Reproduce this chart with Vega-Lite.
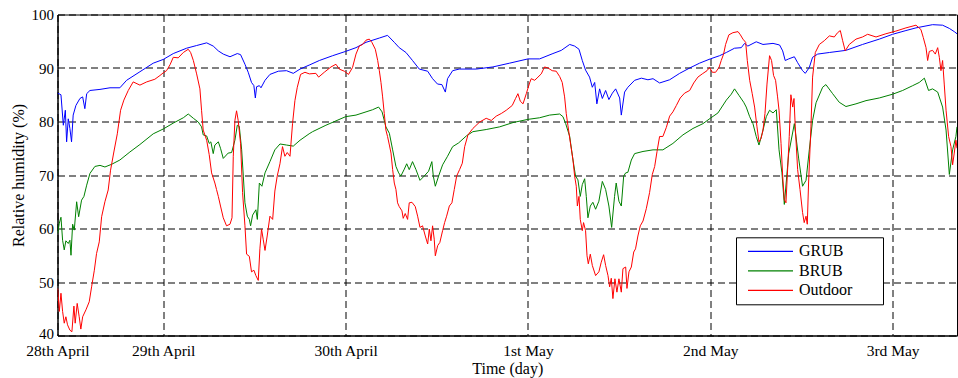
{
"$schema": "https://vega.github.io/schema/vega-lite/v6.json",
"width": 899.5, "height": 321,
"autosize": {"type": "none"},
"padding": {"left": 57.5, "top": 14.5, "right": 1, "bottom": 42.5},
"background": "white",
"config": {
 "font": "Liberation Serif",
 "view": {"stroke": "black", "strokeWidth": 1},
 "axis": {"domainColor": "black", "gridColor": "black", "gridDash": [7, 4], "gridOpacity": 1, "gridWidth": 1, "ticks": false, "labelFont": "Liberation Serif", "labelFontSize": 15.5, "labelColor": "black", "titleFont": "Liberation Serif", "titleFontSize": 16, "titleFontWeight": "normal", "titleColor": "black"}
},
"data": {"values": [
{"s":"GRUB","t":0.421,"v":85.3},{"s":"GRUB","t":0.439,"v":85.0},{"s":"GRUB","t":0.452,"v":79.3},{"s":"GRUB","t":0.463,"v":82.1},{"s":"GRUB","t":0.470,"v":76.2},{"s":"GRUB","t":0.479,"v":80.5},{"s":"GRUB","t":0.488,"v":78.7},{"s":"GRUB","t":0.497,"v":76.2},{"s":"GRUB","t":0.506,"v":81.2},{"s":"GRUB","t":0.521,"v":83.0},{"s":"GRUB","t":0.543,"v":84.3},{"s":"GRUB","t":0.558,"v":84.6},{"s":"GRUB","t":0.570,"v":82.4},{"s":"GRUB","t":0.580,"v":85.2},{"s":"GRUB","t":0.598,"v":85.8},{"s":"GRUB","t":0.653,"v":86.0},{"s":"GRUB","t":0.708,"v":86.3},{"s":"GRUB","t":0.762,"v":86.3},{"s":"GRUB","t":0.799,"v":87.7},{"s":"GRUB","t":0.872,"v":89.3},{"s":"GRUB","t":0.945,"v":90.9},{"s":"GRUB","t":1.000,"v":91.6},{"s":"GRUB","t":1.055,"v":92.7},{"s":"GRUB","t":1.128,"v":93.7},{"s":"GRUB","t":1.183,"v":94.2},{"s":"GRUB","t":1.238,"v":94.7},{"s":"GRUB","t":1.274,"v":94.1},{"s":"GRUB","t":1.302,"v":93.2},{"s":"GRUB","t":1.329,"v":92.6},{"s":"GRUB","t":1.366,"v":92.1},{"s":"GRUB","t":1.406,"v":92.7},{"s":"GRUB","t":1.424,"v":92.5},{"s":"GRUB","t":1.448,"v":90.7},{"s":"GRUB","t":1.466,"v":89.2},{"s":"GRUB","t":1.484,"v":87.3},{"s":"GRUB","t":1.497,"v":86.7},{"s":"GRUB","t":1.505,"v":84.4},{"s":"GRUB","t":1.512,"v":86.5},{"s":"GRUB","t":1.527,"v":86.7},{"s":"GRUB","t":1.536,"v":86.3},{"s":"GRUB","t":1.558,"v":87.7},{"s":"GRUB","t":1.585,"v":88.8},{"s":"GRUB","t":1.631,"v":89.4},{"s":"GRUB","t":1.676,"v":89.5},{"s":"GRUB","t":1.713,"v":89.0},{"s":"GRUB","t":1.750,"v":89.8},{"s":"GRUB","t":1.804,"v":90.6},{"s":"GRUB","t":1.856,"v":91.4},{"s":"GRUB","t":1.929,"v":92.3},{"s":"GRUB","t":2.000,"v":93.1},{"s":"GRUB","t":2.057,"v":93.8},{"s":"GRUB","t":2.112,"v":94.8},{"s":"GRUB","t":2.185,"v":95.6},{"s":"GRUB","t":2.230,"v":96.1},{"s":"GRUB","t":2.267,"v":94.8},{"s":"GRUB","t":2.294,"v":93.8},{"s":"GRUB","t":2.331,"v":92.9},{"s":"GRUB","t":2.367,"v":91.4},{"s":"GRUB","t":2.404,"v":89.8},{"s":"GRUB","t":2.450,"v":89.4},{"s":"GRUB","t":2.477,"v":88.0},{"s":"GRUB","t":2.504,"v":87.0},{"s":"GRUB","t":2.528,"v":86.9},{"s":"GRUB","t":2.547,"v":85.5},{"s":"GRUB","t":2.559,"v":88.0},{"s":"GRUB","t":2.587,"v":89.5},{"s":"GRUB","t":2.623,"v":89.8},{"s":"GRUB","t":2.717,"v":89.8},{"s":"GRUB","t":2.808,"v":90.2},{"s":"GRUB","t":2.899,"v":90.9},{"s":"GRUB","t":3.000,"v":91.7},{"s":"GRUB","t":3.064,"v":91.7},{"s":"GRUB","t":3.137,"v":92.7},{"s":"GRUB","t":3.183,"v":93.3},{"s":"GRUB","t":3.229,"v":94.4},{"s":"GRUB","t":3.256,"v":94.1},{"s":"GRUB","t":3.280,"v":93.5},{"s":"GRUB","t":3.298,"v":91.4},{"s":"GRUB","t":3.316,"v":89.6},{"s":"GRUB","t":3.338,"v":88.3},{"s":"GRUB","t":3.353,"v":86.4},{"s":"GRUB","t":3.366,"v":87.3},{"s":"GRUB","t":3.378,"v":83.3},{"s":"GRUB","t":3.393,"v":86.1},{"s":"GRUB","t":3.408,"v":84.3},{"s":"GRUB","t":3.426,"v":85.8},{"s":"GRUB","t":3.444,"v":84.1},{"s":"GRUB","t":3.463,"v":85.3},{"s":"GRUB","t":3.481,"v":86.1},{"s":"GRUB","t":3.503,"v":84.4},{"s":"GRUB","t":3.512,"v":81.2},{"s":"GRUB","t":3.530,"v":85.5},{"s":"GRUB","t":3.548,"v":86.4},{"s":"GRUB","t":3.585,"v":87.7},{"s":"GRUB","t":3.622,"v":88.1},{"s":"GRUB","t":3.658,"v":87.8},{"s":"GRUB","t":3.686,"v":88.0},{"s":"GRUB","t":3.722,"v":87.2},{"s":"GRUB","t":3.777,"v":87.8},{"s":"GRUB","t":3.832,"v":89.0},{"s":"GRUB","t":3.887,"v":90.0},{"s":"GRUB","t":3.941,"v":90.9},{"s":"GRUB","t":4.000,"v":91.7},{"s":"GRUB","t":4.051,"v":92.3},{"s":"GRUB","t":4.088,"v":92.9},{"s":"GRUB","t":4.133,"v":93.7},{"s":"GRUB","t":4.170,"v":93.8},{"s":"GRUB","t":4.188,"v":94.6},{"s":"GRUB","t":4.206,"v":94.1},{"s":"GRUB","t":4.252,"v":94.9},{"s":"GRUB","t":4.289,"v":94.4},{"s":"GRUB","t":4.344,"v":94.6},{"s":"GRUB","t":4.380,"v":94.3},{"s":"GRUB","t":4.397,"v":93.2},{"s":"GRUB","t":4.411,"v":91.4},{"s":"GRUB","t":4.430,"v":91.7},{"s":"GRUB","t":4.461,"v":92.1},{"s":"GRUB","t":4.479,"v":91.0},{"s":"GRUB","t":4.506,"v":89.5},{"s":"GRUB","t":4.521,"v":89.0},{"s":"GRUB","t":4.543,"v":90.1},{"s":"GRUB","t":4.561,"v":92.0},{"s":"GRUB","t":4.589,"v":92.6},{"s":"GRUB","t":4.653,"v":92.9},{"s":"GRUB","t":4.744,"v":93.3},{"s":"GRUB","t":4.835,"v":94.4},{"s":"GRUB","t":4.927,"v":95.4},{"s":"GRUB","t":5.000,"v":96.3},{"s":"GRUB","t":5.073,"v":97.0},{"s":"GRUB","t":5.128,"v":97.5},{"s":"GRUB","t":5.219,"v":98.1},{"s":"GRUB","t":5.274,"v":98.0},{"s":"GRUB","t":5.311,"v":97.4},{"s":"GRUB","t":5.338,"v":96.8},{"s":"GRUB","t":5.353,"v":96.4},
{"s":"BRUB","t":0.421,"v":59.1},{"s":"BRUB","t":0.430,"v":61.0},{"s":"BRUB","t":0.439,"v":62.1},{"s":"BRUB","t":0.448,"v":57.8},{"s":"BRUB","t":0.457,"v":56.0},{"s":"BRUB","t":0.466,"v":57.7},{"s":"BRUB","t":0.479,"v":57.2},{"s":"BRUB","t":0.488,"v":57.8},{"s":"BRUB","t":0.494,"v":55.0},{"s":"BRUB","t":0.503,"v":60.8},{"s":"BRUB","t":0.512,"v":59.7},{"s":"BRUB","t":0.525,"v":65.0},{"s":"BRUB","t":0.536,"v":62.2},{"s":"BRUB","t":0.552,"v":65.3},{"s":"BRUB","t":0.565,"v":66.0},{"s":"BRUB","t":0.580,"v":68.1},{"s":"BRUB","t":0.598,"v":70.3},{"s":"BRUB","t":0.625,"v":71.6},{"s":"BRUB","t":0.653,"v":71.8},{"s":"BRUB","t":0.680,"v":71.5},{"s":"BRUB","t":0.717,"v":72.0},{"s":"BRUB","t":0.762,"v":72.8},{"s":"BRUB","t":0.817,"v":74.3},{"s":"BRUB","t":0.872,"v":75.7},{"s":"BRUB","t":0.945,"v":77.7},{"s":"BRUB","t":1.000,"v":78.6},{"s":"BRUB","t":1.055,"v":79.7},{"s":"BRUB","t":1.110,"v":80.7},{"s":"BRUB","t":1.137,"v":81.4},{"s":"BRUB","t":1.165,"v":80.6},{"s":"BRUB","t":1.192,"v":79.9},{"s":"BRUB","t":1.210,"v":79.0},{"s":"BRUB","t":1.219,"v":77.5},{"s":"BRUB","t":1.238,"v":77.3},{"s":"BRUB","t":1.252,"v":75.9},{"s":"BRUB","t":1.261,"v":76.2},{"s":"BRUB","t":1.274,"v":74.0},{"s":"BRUB","t":1.283,"v":75.6},{"s":"BRUB","t":1.302,"v":76.2},{"s":"BRUB","t":1.314,"v":75.0},{"s":"BRUB","t":1.329,"v":73.1},{"s":"BRUB","t":1.356,"v":74.1},{"s":"BRUB","t":1.375,"v":74.2},{"s":"BRUB","t":1.393,"v":76.5},{"s":"BRUB","t":1.406,"v":79.3},{"s":"BRUB","t":1.417,"v":79.1},{"s":"BRUB","t":1.430,"v":74.7},{"s":"BRUB","t":1.439,"v":69.8},{"s":"BRUB","t":1.448,"v":64.8},{"s":"BRUB","t":1.461,"v":62.3},{"s":"BRUB","t":1.472,"v":61.7},{"s":"BRUB","t":1.479,"v":60.5},{"s":"BRUB","t":1.490,"v":62.5},{"s":"BRUB","t":1.508,"v":63.5},{"s":"BRUB","t":1.516,"v":61.7},{"s":"BRUB","t":1.527,"v":68.5},{"s":"BRUB","t":1.541,"v":67.9},{"s":"BRUB","t":1.558,"v":70.4},{"s":"BRUB","t":1.585,"v":72.5},{"s":"BRUB","t":1.612,"v":74.7},{"s":"BRUB","t":1.640,"v":75.8},{"s":"BRUB","t":1.676,"v":75.6},{"s":"BRUB","t":1.713,"v":75.4},{"s":"BRUB","t":1.750,"v":76.5},{"s":"BRUB","t":1.800,"v":77.7},{"s":"BRUB","t":1.819,"v":78.1},{"s":"BRUB","t":1.892,"v":79.3},{"s":"BRUB","t":2.000,"v":80.9},{"s":"BRUB","t":2.057,"v":81.2},{"s":"BRUB","t":2.112,"v":81.8},{"s":"BRUB","t":2.148,"v":82.2},{"s":"BRUB","t":2.181,"v":82.7},{"s":"BRUB","t":2.200,"v":81.8},{"s":"BRUB","t":2.221,"v":79.0},{"s":"BRUB","t":2.240,"v":77.8},{"s":"BRUB","t":2.258,"v":74.7},{"s":"BRUB","t":2.276,"v":71.6},{"s":"BRUB","t":2.291,"v":70.4},{"s":"BRUB","t":2.303,"v":69.8},{"s":"BRUB","t":2.322,"v":71.1},{"s":"BRUB","t":2.335,"v":72.1},{"s":"BRUB","t":2.349,"v":71.0},{"s":"BRUB","t":2.367,"v":72.5},{"s":"BRUB","t":2.386,"v":71.0},{"s":"BRUB","t":2.408,"v":69.0},{"s":"BRUB","t":2.431,"v":69.8},{"s":"BRUB","t":2.455,"v":70.7},{"s":"BRUB","t":2.473,"v":72.5},{"s":"BRUB","t":2.481,"v":69.8},{"s":"BRUB","t":2.492,"v":67.9},{"s":"BRUB","t":2.510,"v":69.8},{"s":"BRUB","t":2.532,"v":71.9},{"s":"BRUB","t":2.559,"v":73.5},{"s":"BRUB","t":2.587,"v":75.3},{"s":"BRUB","t":2.620,"v":76.0},{"s":"BRUB","t":2.662,"v":77.3},{"s":"BRUB","t":2.698,"v":78.1},{"s":"BRUB","t":2.771,"v":78.5},{"s":"BRUB","t":2.845,"v":79.0},{"s":"BRUB","t":2.918,"v":79.8},{"s":"BRUB","t":3.000,"v":80.4},{"s":"BRUB","t":3.064,"v":80.7},{"s":"BRUB","t":3.119,"v":81.2},{"s":"BRUB","t":3.174,"v":81.4},{"s":"BRUB","t":3.192,"v":80.9},{"s":"BRUB","t":3.207,"v":79.6},{"s":"BRUB","t":3.229,"v":77.2},{"s":"BRUB","t":3.247,"v":72.8},{"s":"BRUB","t":3.261,"v":69.8},{"s":"BRUB","t":3.274,"v":69.1},{"s":"BRUB","t":3.287,"v":66.0},{"s":"BRUB","t":3.298,"v":68.2},{"s":"BRUB","t":3.311,"v":69.3},{"s":"BRUB","t":3.320,"v":66.0},{"s":"BRUB","t":3.329,"v":62.0},{"s":"BRUB","t":3.342,"v":64.2},{"s":"BRUB","t":3.356,"v":64.9},{"s":"BRUB","t":3.371,"v":63.6},{"s":"BRUB","t":3.389,"v":65.1},{"s":"BRUB","t":3.408,"v":68.8},{"s":"BRUB","t":3.426,"v":67.3},{"s":"BRUB","t":3.444,"v":64.2},{"s":"BRUB","t":3.459,"v":60.2},{"s":"BRUB","t":3.475,"v":66.0},{"s":"BRUB","t":3.484,"v":68.5},{"s":"BRUB","t":3.499,"v":65.1},{"s":"BRUB","t":3.512,"v":64.2},{"s":"BRUB","t":3.525,"v":69.8},{"s":"BRUB","t":3.536,"v":70.4},{"s":"BRUB","t":3.548,"v":70.5},{"s":"BRUB","t":3.567,"v":72.8},{"s":"BRUB","t":3.585,"v":74.0},{"s":"BRUB","t":3.631,"v":74.4},{"s":"BRUB","t":3.686,"v":74.7},{"s":"BRUB","t":3.740,"v":74.7},{"s":"BRUB","t":3.795,"v":75.9},{"s":"BRUB","t":3.850,"v":77.5},{"s":"BRUB","t":3.905,"v":78.7},{"s":"BRUB","t":3.960,"v":79.6},{"s":"BRUB","t":4.000,"v":80.6},{"s":"BRUB","t":4.042,"v":81.6},{"s":"BRUB","t":4.088,"v":84.0},{"s":"BRUB","t":4.115,"v":85.1},{"s":"BRUB","t":4.133,"v":86.1},{"s":"BRUB","t":4.157,"v":84.9},{"s":"BRUB","t":4.183,"v":83.6},{"s":"BRUB","t":4.197,"v":82.7},{"s":"BRUB","t":4.216,"v":80.9},{"s":"BRUB","t":4.234,"v":79.6},{"s":"BRUB","t":4.252,"v":77.2},{"s":"BRUB","t":4.267,"v":75.6},{"s":"BRUB","t":4.285,"v":77.8},{"s":"BRUB","t":4.307,"v":80.9},{"s":"BRUB","t":4.325,"v":82.1},{"s":"BRUB","t":4.344,"v":81.6},{"s":"BRUB","t":4.362,"v":82.2},{"s":"BRUB","t":4.377,"v":74.7},{"s":"BRUB","t":4.393,"v":70.4},{"s":"BRUB","t":4.406,"v":64.5},{"s":"BRUB","t":4.430,"v":74.0},{"s":"BRUB","t":4.461,"v":79.6},{"s":"BRUB","t":4.485,"v":73.0},{"s":"BRUB","t":4.506,"v":67.9},{"s":"BRUB","t":4.525,"v":69.0},{"s":"BRUB","t":4.543,"v":74.7},{"s":"BRUB","t":4.561,"v":80.2},{"s":"BRUB","t":4.580,"v":83.5},{"s":"BRUB","t":4.616,"v":86.4},{"s":"BRUB","t":4.634,"v":86.9},{"s":"BRUB","t":4.671,"v":85.2},{"s":"BRUB","t":4.707,"v":83.6},{"s":"BRUB","t":4.744,"v":82.8},{"s":"BRUB","t":4.799,"v":83.3},{"s":"BRUB","t":4.854,"v":83.9},{"s":"BRUB","t":4.927,"v":84.4},{"s":"BRUB","t":5.000,"v":85.1},{"s":"BRUB","t":5.055,"v":85.8},{"s":"BRUB","t":5.110,"v":86.7},{"s":"BRUB","t":5.146,"v":87.3},{"s":"BRUB","t":5.174,"v":88.1},{"s":"BRUB","t":5.197,"v":85.8},{"s":"BRUB","t":5.219,"v":86.1},{"s":"BRUB","t":5.247,"v":85.5},{"s":"BRUB","t":5.274,"v":82.7},{"s":"BRUB","t":5.293,"v":78.4},{"s":"BRUB","t":5.311,"v":70.1},{"s":"BRUB","t":5.329,"v":74.7},{"s":"BRUB","t":5.347,"v":77.2},{"s":"BRUB","t":5.353,"v":79.0},
{"s":"Outdoor","t":0.421,"v":48.8},{"s":"Outdoor","t":0.430,"v":44.5},{"s":"Outdoor","t":0.439,"v":47.9},{"s":"Outdoor","t":0.448,"v":44.5},{"s":"Outdoor","t":0.457,"v":42.3},{"s":"Outdoor","t":0.466,"v":43.5},{"s":"Outdoor","t":0.475,"v":42.0},{"s":"Outdoor","t":0.488,"v":41.0},{"s":"Outdoor","t":0.499,"v":40.7},{"s":"Outdoor","t":0.510,"v":45.5},{"s":"Outdoor","t":0.517,"v":42.3},{"s":"Outdoor","t":0.528,"v":46.0},{"s":"Outdoor","t":0.539,"v":43.5},{"s":"Outdoor","t":0.548,"v":41.2},{"s":"Outdoor","t":0.558,"v":43.5},{"s":"Outdoor","t":0.576,"v":44.8},{"s":"Outdoor","t":0.594,"v":46.3},{"s":"Outdoor","t":0.607,"v":49.1},{"s":"Outdoor","t":0.622,"v":52.2},{"s":"Outdoor","t":0.634,"v":55.3},{"s":"Outdoor","t":0.649,"v":57.5},{"s":"Outdoor","t":0.662,"v":62.2},{"s":"Outdoor","t":0.680,"v":65.0},{"s":"Outdoor","t":0.698,"v":67.2},{"s":"Outdoor","t":0.711,"v":70.9},{"s":"Outdoor","t":0.729,"v":74.3},{"s":"Outdoor","t":0.748,"v":77.7},{"s":"Outdoor","t":0.766,"v":82.1},{"s":"Outdoor","t":0.784,"v":84.0},{"s":"Outdoor","t":0.808,"v":85.8},{"s":"Outdoor","t":0.835,"v":87.4},{"s":"Outdoor","t":0.872,"v":86.8},{"s":"Outdoor","t":0.909,"v":87.4},{"s":"Outdoor","t":0.954,"v":87.9},{"s":"Outdoor","t":0.982,"v":88.6},{"s":"Outdoor","t":1.000,"v":89.1},{"s":"Outdoor","t":1.018,"v":89.5},{"s":"Outdoor","t":1.037,"v":90.6},{"s":"Outdoor","t":1.055,"v":92.0},{"s":"Outdoor","t":1.082,"v":91.9},{"s":"Outdoor","t":1.110,"v":92.9},{"s":"Outdoor","t":1.137,"v":93.5},{"s":"Outdoor","t":1.150,"v":92.9},{"s":"Outdoor","t":1.165,"v":91.4},{"s":"Outdoor","t":1.183,"v":88.9},{"s":"Outdoor","t":1.201,"v":86.1},{"s":"Outdoor","t":1.210,"v":82.1},{"s":"Outdoor","t":1.219,"v":78.4},{"s":"Outdoor","t":1.238,"v":76.5},{"s":"Outdoor","t":1.252,"v":73.8},{"s":"Outdoor","t":1.265,"v":70.4},{"s":"Outdoor","t":1.283,"v":68.5},{"s":"Outdoor","t":1.292,"v":67.3},{"s":"Outdoor","t":1.302,"v":66.0},{"s":"Outdoor","t":1.314,"v":64.2},{"s":"Outdoor","t":1.329,"v":62.0},{"s":"Outdoor","t":1.347,"v":60.5},{"s":"Outdoor","t":1.366,"v":60.8},{"s":"Outdoor","t":1.377,"v":62.0},{"s":"Outdoor","t":1.384,"v":73.5},{"s":"Outdoor","t":1.393,"v":80.2},{"s":"Outdoor","t":1.402,"v":82.0},{"s":"Outdoor","t":1.411,"v":80.2},{"s":"Outdoor","t":1.424,"v":75.9},{"s":"Outdoor","t":1.435,"v":66.7},{"s":"Outdoor","t":1.448,"v":60.5},{"s":"Outdoor","t":1.457,"v":55.2},{"s":"Outdoor","t":1.472,"v":54.8},{"s":"Outdoor","t":1.484,"v":51.9},{"s":"Outdoor","t":1.497,"v":52.2},{"s":"Outdoor","t":1.508,"v":51.2},{"s":"Outdoor","t":1.521,"v":50.3},{"s":"Outdoor","t":1.530,"v":56.2},{"s":"Outdoor","t":1.539,"v":59.9},{"s":"Outdoor","t":1.548,"v":58.0},{"s":"Outdoor","t":1.558,"v":55.9},{"s":"Outdoor","t":1.570,"v":58.6},{"s":"Outdoor","t":1.585,"v":62.3},{"s":"Outdoor","t":1.600,"v":61.7},{"s":"Outdoor","t":1.612,"v":67.0},{"s":"Outdoor","t":1.625,"v":69.8},{"s":"Outdoor","t":1.640,"v":72.1},{"s":"Outdoor","t":1.654,"v":75.3},{"s":"Outdoor","t":1.667,"v":73.5},{"s":"Outdoor","t":1.680,"v":74.2},{"s":"Outdoor","t":1.695,"v":73.5},{"s":"Outdoor","t":1.709,"v":79.6},{"s":"Outdoor","t":1.722,"v":83.9},{"s":"Outdoor","t":1.735,"v":86.4},{"s":"Outdoor","t":1.753,"v":88.8},{"s":"Outdoor","t":1.777,"v":89.2},{"s":"Outdoor","t":1.801,"v":88.9},{"s":"Outdoor","t":1.837,"v":89.0},{"s":"Outdoor","t":1.852,"v":88.3},{"s":"Outdoor","t":1.883,"v":89.2},{"s":"Outdoor","t":1.920,"v":90.2},{"s":"Outdoor","t":1.947,"v":90.7},{"s":"Outdoor","t":1.965,"v":89.8},{"s":"Outdoor","t":1.993,"v":89.4},{"s":"Outdoor","t":2.016,"v":88.8},{"s":"Outdoor","t":2.038,"v":90.1},{"s":"Outdoor","t":2.057,"v":92.6},{"s":"Outdoor","t":2.075,"v":94.1},{"s":"Outdoor","t":2.093,"v":94.4},{"s":"Outdoor","t":2.112,"v":95.2},{"s":"Outdoor","t":2.130,"v":95.4},{"s":"Outdoor","t":2.144,"v":94.8},{"s":"Outdoor","t":2.163,"v":93.5},{"s":"Outdoor","t":2.176,"v":91.4},{"s":"Outdoor","t":2.185,"v":89.5},{"s":"Outdoor","t":2.194,"v":87.3},{"s":"Outdoor","t":2.203,"v":84.6},{"s":"Outdoor","t":2.212,"v":81.5},{"s":"Outdoor","t":2.221,"v":78.4},{"s":"Outdoor","t":2.230,"v":77.2},{"s":"Outdoor","t":2.240,"v":75.6},{"s":"Outdoor","t":2.249,"v":74.1},{"s":"Outdoor","t":2.258,"v":71.0},{"s":"Outdoor","t":2.267,"v":68.5},{"s":"Outdoor","t":2.276,"v":67.3},{"s":"Outdoor","t":2.285,"v":64.8},{"s":"Outdoor","t":2.294,"v":64.1},{"s":"Outdoor","t":2.309,"v":63.3},{"s":"Outdoor","t":2.316,"v":61.9},{"s":"Outdoor","t":2.327,"v":62.8},{"s":"Outdoor","t":2.340,"v":61.7},{"s":"Outdoor","t":2.349,"v":64.8},{"s":"Outdoor","t":2.364,"v":64.9},{"s":"Outdoor","t":2.382,"v":64.1},{"s":"Outdoor","t":2.395,"v":62.3},{"s":"Outdoor","t":2.408,"v":60.2},{"s":"Outdoor","t":2.422,"v":60.5},{"s":"Outdoor","t":2.437,"v":58.6},{"s":"Outdoor","t":2.450,"v":57.1},{"s":"Outdoor","t":2.459,"v":59.9},{"s":"Outdoor","t":2.468,"v":57.7},{"s":"Outdoor","t":2.477,"v":60.5},{"s":"Outdoor","t":2.486,"v":58.0},{"s":"Outdoor","t":2.492,"v":54.9},{"s":"Outdoor","t":2.505,"v":56.8},{"s":"Outdoor","t":2.517,"v":57.4},{"s":"Outdoor","t":2.532,"v":59.6},{"s":"Outdoor","t":2.543,"v":61.1},{"s":"Outdoor","t":2.554,"v":62.3},{"s":"Outdoor","t":2.569,"v":64.2},{"s":"Outdoor","t":2.583,"v":64.8},{"s":"Outdoor","t":2.596,"v":67.3},{"s":"Outdoor","t":2.609,"v":69.8},{"s":"Outdoor","t":2.625,"v":71.0},{"s":"Outdoor","t":2.640,"v":72.2},{"s":"Outdoor","t":2.653,"v":75.3},{"s":"Outdoor","t":2.671,"v":77.5},{"s":"Outdoor","t":2.698,"v":78.7},{"s":"Outdoor","t":2.735,"v":79.9},{"s":"Outdoor","t":2.771,"v":80.6},{"s":"Outdoor","t":2.799,"v":80.2},{"s":"Outdoor","t":2.826,"v":81.0},{"s":"Outdoor","t":2.854,"v":81.5},{"s":"Outdoor","t":2.881,"v":82.1},{"s":"Outdoor","t":2.914,"v":83.0},{"s":"Outdoor","t":2.932,"v":84.3},{"s":"Outdoor","t":2.945,"v":85.2},{"s":"Outdoor","t":2.958,"v":83.8},{"s":"Outdoor","t":2.973,"v":83.3},{"s":"Outdoor","t":2.991,"v":85.2},{"s":"Outdoor","t":3.009,"v":87.2},{"s":"Outdoor","t":3.018,"v":88.0},{"s":"Outdoor","t":3.037,"v":87.7},{"s":"Outdoor","t":3.055,"v":88.3},{"s":"Outdoor","t":3.073,"v":88.9},{"s":"Outdoor","t":3.091,"v":90.2},{"s":"Outdoor","t":3.110,"v":90.0},{"s":"Outdoor","t":3.133,"v":89.5},{"s":"Outdoor","t":3.155,"v":89.4},{"s":"Outdoor","t":3.174,"v":88.4},{"s":"Outdoor","t":3.188,"v":87.3},{"s":"Outdoor","t":3.201,"v":84.6},{"s":"Outdoor","t":3.210,"v":81.5},{"s":"Outdoor","t":3.219,"v":79.3},{"s":"Outdoor","t":3.232,"v":76.2},{"s":"Outdoor","t":3.247,"v":72.8},{"s":"Outdoor","t":3.256,"v":69.8},{"s":"Outdoor","t":3.265,"v":67.9},{"s":"Outdoor","t":3.271,"v":64.2},{"s":"Outdoor","t":3.280,"v":66.0},{"s":"Outdoor","t":3.287,"v":61.7},{"s":"Outdoor","t":3.298,"v":59.6},{"s":"Outdoor","t":3.305,"v":61.1},{"s":"Outdoor","t":3.316,"v":59.6},{"s":"Outdoor","t":3.324,"v":54.9},{"s":"Outdoor","t":3.331,"v":53.4},{"s":"Outdoor","t":3.342,"v":55.2},{"s":"Outdoor","t":3.353,"v":53.1},{"s":"Outdoor","t":3.371,"v":51.2},{"s":"Outdoor","t":3.389,"v":51.9},{"s":"Outdoor","t":3.402,"v":53.7},{"s":"Outdoor","t":3.415,"v":55.1},{"s":"Outdoor","t":3.426,"v":53.1},{"s":"Outdoor","t":3.439,"v":51.2},{"s":"Outdoor","t":3.448,"v":49.1},{"s":"Outdoor","t":3.457,"v":50.7},{"s":"Outdoor","t":3.466,"v":46.9},{"s":"Outdoor","t":3.477,"v":50.6},{"s":"Outdoor","t":3.488,"v":48.1},{"s":"Outdoor","t":3.499,"v":50.6},{"s":"Outdoor","t":3.512,"v":48.1},{"s":"Outdoor","t":3.521,"v":52.5},{"s":"Outdoor","t":3.536,"v":52.8},{"s":"Outdoor","t":3.543,"v":48.8},{"s":"Outdoor","t":3.554,"v":51.9},{"s":"Outdoor","t":3.567,"v":52.8},{"s":"Outdoor","t":3.580,"v":55.6},{"s":"Outdoor","t":3.590,"v":56.2},{"s":"Outdoor","t":3.603,"v":58.6},{"s":"Outdoor","t":3.616,"v":60.5},{"s":"Outdoor","t":3.631,"v":61.4},{"s":"Outdoor","t":3.649,"v":63.7},{"s":"Outdoor","t":3.667,"v":66.7},{"s":"Outdoor","t":3.682,"v":70.1},{"s":"Outdoor","t":3.695,"v":71.6},{"s":"Outdoor","t":3.708,"v":74.4},{"s":"Outdoor","t":3.722,"v":77.2},{"s":"Outdoor","t":3.740,"v":77.2},{"s":"Outdoor","t":3.759,"v":78.9},{"s":"Outdoor","t":3.777,"v":81.0},{"s":"Outdoor","t":3.795,"v":81.8},{"s":"Outdoor","t":3.814,"v":83.0},{"s":"Outdoor","t":3.835,"v":84.4},{"s":"Outdoor","t":3.859,"v":85.3},{"s":"Outdoor","t":3.887,"v":85.8},{"s":"Outdoor","t":3.909,"v":87.2},{"s":"Outdoor","t":3.932,"v":88.3},{"s":"Outdoor","t":3.956,"v":88.9},{"s":"Outdoor","t":3.982,"v":89.5},{"s":"Outdoor","t":3.996,"v":90.1},{"s":"Outdoor","t":4.011,"v":89.2},{"s":"Outdoor","t":4.029,"v":89.2},{"s":"Outdoor","t":4.048,"v":90.1},{"s":"Outdoor","t":4.060,"v":91.4},{"s":"Outdoor","t":4.073,"v":92.6},{"s":"Outdoor","t":4.084,"v":94.4},{"s":"Outdoor","t":4.102,"v":96.2},{"s":"Outdoor","t":4.124,"v":96.6},{"s":"Outdoor","t":4.152,"v":96.8},{"s":"Outdoor","t":4.165,"v":96.2},{"s":"Outdoor","t":4.179,"v":95.4},{"s":"Outdoor","t":4.194,"v":94.8},{"s":"Outdoor","t":4.203,"v":91.4},{"s":"Outdoor","t":4.216,"v":87.7},{"s":"Outdoor","t":4.230,"v":85.2},{"s":"Outdoor","t":4.243,"v":82.7},{"s":"Outdoor","t":4.256,"v":79.0},{"s":"Outdoor","t":4.267,"v":76.2},{"s":"Outdoor","t":4.278,"v":76.8},{"s":"Outdoor","t":4.289,"v":78.4},{"s":"Outdoor","t":4.300,"v":81.5},{"s":"Outdoor","t":4.311,"v":87.0},{"s":"Outdoor","t":4.325,"v":92.3},{"s":"Outdoor","t":4.336,"v":91.4},{"s":"Outdoor","t":4.347,"v":88.6},{"s":"Outdoor","t":4.358,"v":87.7},{"s":"Outdoor","t":4.369,"v":84.6},{"s":"Outdoor","t":4.377,"v":82.1},{"s":"Outdoor","t":4.388,"v":75.9},{"s":"Outdoor","t":4.397,"v":69.8},{"s":"Outdoor","t":4.406,"v":65.4},{"s":"Outdoor","t":4.415,"v":64.8},{"s":"Outdoor","t":4.424,"v":71.0},{"s":"Outdoor","t":4.433,"v":77.2},{"s":"Outdoor","t":4.442,"v":85.0},{"s":"Outdoor","t":4.452,"v":82.7},{"s":"Outdoor","t":4.459,"v":84.3},{"s":"Outdoor","t":4.466,"v":79.0},{"s":"Outdoor","t":4.479,"v":71.0},{"s":"Outdoor","t":4.492,"v":67.3},{"s":"Outdoor","t":4.506,"v":63.0},{"s":"Outdoor","t":4.515,"v":61.1},{"s":"Outdoor","t":4.525,"v":62.3},{"s":"Outdoor","t":4.532,"v":60.8},{"s":"Outdoor","t":4.539,"v":68.5},{"s":"Outdoor","t":4.552,"v":79.0},{"s":"Outdoor","t":4.561,"v":88.3},{"s":"Outdoor","t":4.576,"v":92.9},{"s":"Outdoor","t":4.598,"v":94.4},{"s":"Outdoor","t":4.625,"v":95.1},{"s":"Outdoor","t":4.653,"v":96.0},{"s":"Outdoor","t":4.680,"v":95.8},{"s":"Outdoor","t":4.698,"v":96.6},{"s":"Outdoor","t":4.713,"v":97.0},{"s":"Outdoor","t":4.726,"v":95.1},{"s":"Outdoor","t":4.740,"v":93.2},{"s":"Outdoor","t":4.762,"v":94.4},{"s":"Outdoor","t":4.799,"v":95.4},{"s":"Outdoor","t":4.835,"v":95.8},{"s":"Outdoor","t":4.863,"v":96.3},{"s":"Outdoor","t":4.909,"v":95.8},{"s":"Outdoor","t":4.963,"v":96.4},{"s":"Outdoor","t":5.018,"v":96.9},{"s":"Outdoor","t":5.073,"v":97.5},{"s":"Outdoor","t":5.128,"v":98.0},{"s":"Outdoor","t":5.155,"v":97.2},{"s":"Outdoor","t":5.168,"v":95.7},{"s":"Outdoor","t":5.183,"v":93.8},{"s":"Outdoor","t":5.192,"v":91.4},{"s":"Outdoor","t":5.201,"v":93.1},{"s":"Outdoor","t":5.219,"v":93.3},{"s":"Outdoor","t":5.234,"v":92.6},{"s":"Outdoor","t":5.247,"v":93.8},{"s":"Outdoor","t":5.256,"v":92.0},{"s":"Outdoor","t":5.265,"v":89.5},{"s":"Outdoor","t":5.274,"v":91.4},{"s":"Outdoor","t":5.283,"v":87.0},{"s":"Outdoor","t":5.293,"v":82.1},{"s":"Outdoor","t":5.307,"v":77.2},{"s":"Outdoor","t":5.320,"v":75.3},{"s":"Outdoor","t":5.329,"v":71.9},{"s":"Outdoor","t":5.338,"v":74.1},{"s":"Outdoor","t":5.347,"v":76.5},{"s":"Outdoor","t":5.353,"v":75.0}
]},
"mark": {"type": "line", "strokeWidth": 1, "clip": true},
"encoding": {
 "x": {"field": "t", "type": "quantitative", "scale": {"domain": [0.42, 5.353], "nice": false, "zero": false},
  "axis": {"values": [0.42, 1, 2, 3, 4, 5], "labelFlush": false, "labelOverlap": false, "labelPadding": 7.5, "titlePadding": 1.5, "title": "Time (day)",
   "labelExpr": "datum.value < 0.9 ? '28th April' : datum.value == 1 ? '29th April' : datum.value == 2 ? '30th April' : datum.value == 3 ? '1st May' : datum.value == 4 ? '2nd May' : '3rd May'"}},
 "y": {"field": "v", "type": "quantitative", "scale": {"domain": [40, 100], "nice": false, "zero": false},
  "axis": {"values": [40, 50, 60, 70, 80, 90, 100], "labelFontSize": 15, "labelPadding": 4, "titlePadding": 5, "title": "Relative humidity (%)",
   "labelOffset": {"condition": {"test": "datum.value == 40", "value": -2}, "value": 0}}},
 "color": {"field": "s", "type": "nominal", "scale": {"domain": ["GRUB", "BRUB", "Outdoor"], "range": ["#0000ff", "#008000", "#ff0000"]},
  "legend": {"title": null, "orient": "none", "legendX": 678.5, "legendY": 222.8, "symbolType": "M-0.5,0H10.75M31,0", "symbolSize": 64, "symbolStrokeWidth": 1.2, "symbolFillColor": "transparent", "labelFont": "Liberation Serif", "labelFontSize": 16, "labelColor": "black", "labelOffset": 41, "rowPadding": 3.5, "strokeColor": "black", "fillColor": "white", "padding": 6}}
}
}
